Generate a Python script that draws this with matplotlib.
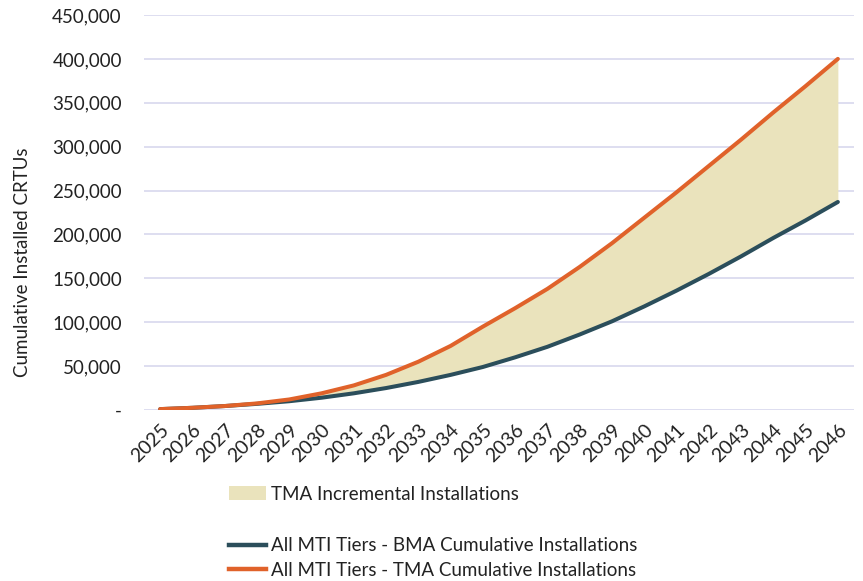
import numpy as np
import matplotlib
matplotlib.use("Agg")
import matplotlib.pyplot as plt
from matplotlib.ticker import FuncFormatter
from matplotlib.patches import Patch
from matplotlib.lines import Line2D

years = [str(y) for y in range(2025, 2047)]
bma_cumulative = [1000, 2500, 4500, 7000, 10000, 14000, 19000, 25000, 32000, 40000, 49000,
                  60000, 72000, 86000, 101000, 118000, 136000, 155000, 175000, 196000, 216000, 237000]
tma_cumulative = [1000, 2500, 4500, 7500, 12000, 19000, 28000, 40000, 55000, 73000, 95000,
                  116000, 138000, 163000, 190000, 219000, 248000, 278000, 308000, 339000, 369000, 400000]
y_ticks = list(range(0, 450001, 50000))

orange = "#E0622A"
teal = "#2B4E5B"
fill_col = "#EAE3BC"
grid_col = "#D8D8EE"
text_col = "#222222"

plt.rcParams['font.family'] = ['Lato', 'DejaVu Sans']

fig = plt.figure(figsize=(8.63, 5.81), dpi=100)
ax = fig.add_axes([144 / 863, 1 - 410 / 581, (854 - 144) / 863, (410 - 15) / 581])

x = np.arange(len(years))
ax.fill_between(x, bma_cumulative, tma_cumulative, color=fill_col, lw=0, zorder=1)
ax.plot(x, bma_cumulative, color=teal, lw=2.9, solid_capstyle="round", zorder=3)
ax.plot(x, tma_cumulative, color=orange, lw=2.9, solid_capstyle="round", zorder=4)

ax.set_xlim(-0.5, len(years) - 0.5)
ax.set_ylim(0, 450000)
ax.set_yticks(y_ticks)
ax.yaxis.set_major_formatter(FuncFormatter(lambda v, p: "-" if v == 0 else f"{int(v):,}"))
ax.set_xticks(x)
ax.set_xticklabels(years, rotation=45, ha="right", rotation_mode="anchor")
ax.tick_params(axis="both", length=0, labelsize=13.5, colors=text_col)
ax.tick_params(axis="x", labelsize=14, pad=8)
ax.tick_params(axis="y", pad=16)
ax.grid(axis="y", color=grid_col, lw=1.2, zorder=0)
ax.set_axisbelow(True)
for s in ax.spines.values():
    s.set_visible(False)
ax.set_ylabel("Cumulative Installed CRTUs", fontsize=13.5, color=text_col)
ax.yaxis.set_label_coords((31 - 144) / (854 - 144), (410 - 262) / (410 - 15))

leg_kw = dict(frameon=False, fontsize=13.5, handlelength=1.95, handletextpad=0.3,
              borderpad=0, borderaxespad=0, labelcolor=text_col)
fig.legend(handles=[Patch(facecolor=fill_col, edgecolor="none")],
           labels=["TMA Incremental Installations"],
           loc="center left", bbox_to_anchor=(229 / 863, 1 - 494 / 581),
           handleheight=0.8, **leg_kw)
fig.legend(handles=[Line2D([], [], color=teal, lw=3.2),
                    Line2D([], [], color=orange, lw=3.2)],
           labels=["All MTI Tiers - BMA Cumulative Installations",
                   "All MTI Tiers - TMA Cumulative Installations"],
           loc="center left", bbox_to_anchor=(229 / 863, 1 - 558 / 581),
           labelspacing=0.42, **leg_kw)

fig.savefig("out.png", dpi=100)
